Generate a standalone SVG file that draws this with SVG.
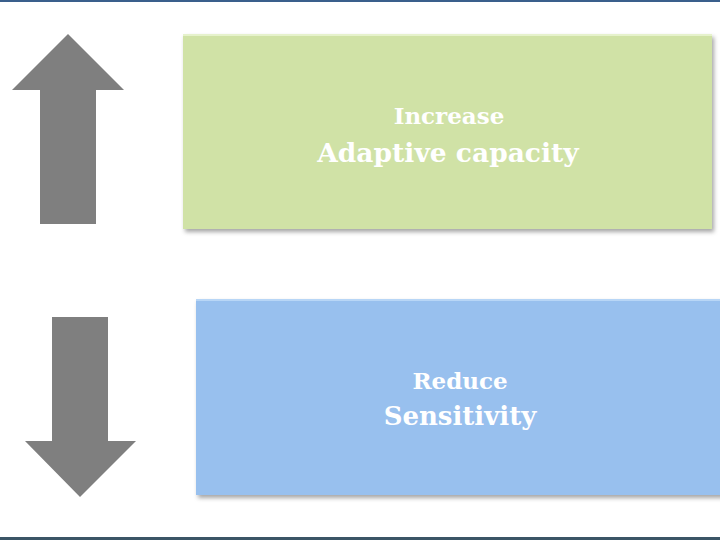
<svg xmlns="http://www.w3.org/2000/svg" width="720" height="540" viewBox="0 0 720 540">
<defs>
<filter id="sh" x="-5%" y="-5%" width="115%" height="120%">
<feDropShadow dx="2" dy="3" stdDeviation="2" flood-color="#000" flood-opacity="0.35"/>
</filter>
<style>
.lbl{font-family:"DejaVu Serif","Liberation Serif",serif;font-weight:bold;fill:#ffffff;text-anchor:middle}
.arrow{fill:#7f7f7f}
</style>
</defs>
<rect width="720" height="540" fill="#ffffff"/>
<rect x="0" y="0" width="720" height="2" fill="#3a5f8c"/>
<rect x="0" y="537" width="720" height="3" fill="#3b5566"/>
<g id="arrow-up">
<polygon class="arrow" points="68,34 124,90 96,90 96,224 40,224 40,90 12,90"/>
</g>
<g id="arrow-down">
<polygon class="arrow" points="52,317 108,317 108,441 136,441 80,497 25,441 52,441"/>
</g>
<g id="increase">
<rect x="183" y="34" width="529" height="195" fill="#d0e2a6" filter="url(#sh)"/>
<rect x="183" y="34" width="529" height="2" fill="#e6f2cc"/>
<text class="lbl" x="449" y="124" font-size="23">Increase</text>
<text class="lbl" x="448" y="162" font-size="26.5">Adaptive capacity</text>
</g>
<g id="reduce">
<rect x="196" y="299" width="540" height="196" fill="#98c0ee" filter="url(#sh)"/>
<rect x="196" y="299" width="540" height="2" fill="#b8d6f6"/>
<text class="lbl" x="460" y="389" font-size="23">Reduce</text>
<text class="lbl" x="460" y="425" font-size="26">Sensitivity</text>
</g>
</svg>
